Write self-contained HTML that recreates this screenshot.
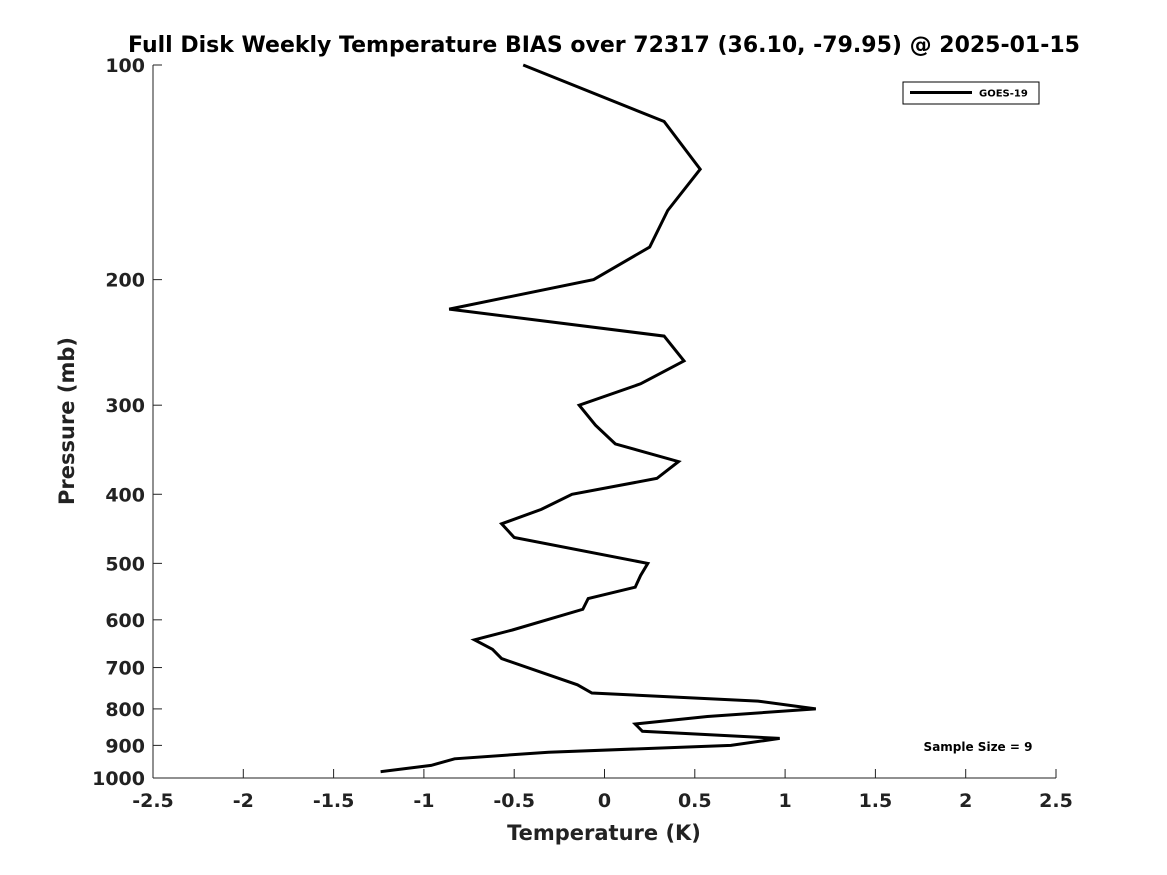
<!DOCTYPE html>
<html><head><meta charset="utf-8"><style>
body{margin:0;background:#fff;}
svg{display:block;font-family:"DejaVu Sans","Liberation Sans",sans-serif;font-weight:bold;}
</style></head><body>
<svg id="chart" width="1167" height="875" viewBox="0 0 1167 875">
<text x="604" y="52" text-anchor="middle" font-size="22" fill="#000">Full Disk Weekly Temperature BIAS over 72317 (36.10, -79.95) @ 2025-01-15</text>
<g id="axes"></g>
<path id="series" fill="none" stroke="#000" stroke-width="3" stroke-linejoin="miter"></path>
<g>
<rect x="903" y="82" width="136" height="22" fill="#fff" stroke="#000" stroke-width="1"></rect>
<line x1="910" y1="92.5" x2="972" y2="92.5" stroke="#000" stroke-width="3"></line>
<text x="979" y="96.5" font-size="10" fill="#000">GOES-19</text>
</g>
<text x="978" y="751" text-anchor="middle" font-size="12" fill="#000">Sample Size = 9</text>
<text x="604" y="840" text-anchor="middle" font-size="21" fill="#222">Temperature (K)</text>
<text transform="translate(74,421) rotate(-90)" text-anchor="middle" font-size="21" fill="#222">Pressure (mb)</text>
</svg>
<script>
const pressures=[100,120,140,160,180,200,220,240,260,280,300,320,340,360,380,400,420,440,460,500,520,540,560,580,620,640,660,680,740,760,780,800,820,840,860,880,900,920,940,960,980];
const biasValues=[-0.45,0.33,0.53,0.35,0.25,-0.06,-0.86,0.33,0.44,0.2,-0.14,-0.05,0.06,0.41,0.29,-0.18,-0.35,-0.57,-0.5,0.24,0.2,0.17,-0.09,-0.12,-0.51,-0.72,-0.62,-0.57,-0.15,-0.07,0.85,1.17,0.57,0.17,0.21,0.97,0.7,-0.31,-0.83,-0.96,-1.24];
const xTicks=[-2.5,-2,-1.5,-1,-0.5,0,0.5,1,1.5,2,2.5];
const yTicks=[100,200,300,400,500,600,700,800,900,1000];
const L=153,R=1056,T=65,B=778;
const xs=v=>L+(v+2.5)/5*(R-L);
const ys=p=>T+Math.log10(p/100)*(B-T);
const NS="http://www.w3.org/2000/svg";
const ax=document.getElementById('axes');
function mk(tag,attrs,txt){const e=document.createElementNS(NS,tag);for(const k in attrs)e.setAttribute(k,attrs[k]);if(txt!==undefined)e.textContent=txt;ax.appendChild(e);return e;}
let e=mk('line',{x1:L,y1:B,x2:R,y2:B,stroke:'#222','stroke-width':1});


e=mk('line',{x1:L,y1:T,x2:L,y2:B,stroke:'#222','stroke-width':1});


xTicks.forEach(t=>{const x=xs(t);
 let l=mk('line',{x1:x,y1:B,x2:x,y2:B-9,stroke:'#222'});
 
 
 let s=mk('text',{x:x,y:B+29,'text-anchor':'middle','font-size':19,fill:'#222'},String(t));
 
 
});
yTicks.forEach(t=>{const y=ys(t);
 let l=mk('line',{x1:L,y1:y,x2:L+9,y2:y,stroke:'#222'});
 
 
 let s=mk('text',{x:L-8,y:y+7,'text-anchor':'end','font-size':19,fill:'#222'},String(t));
 
 
});
document.getElementById('series').setAttribute('d',pressures.map((p,i)=>(i?'L':'M')+xs(biasValues[i]).toFixed(1)+' '+ys(p).toFixed(1)).join(' '));
</script>
</body></html>
